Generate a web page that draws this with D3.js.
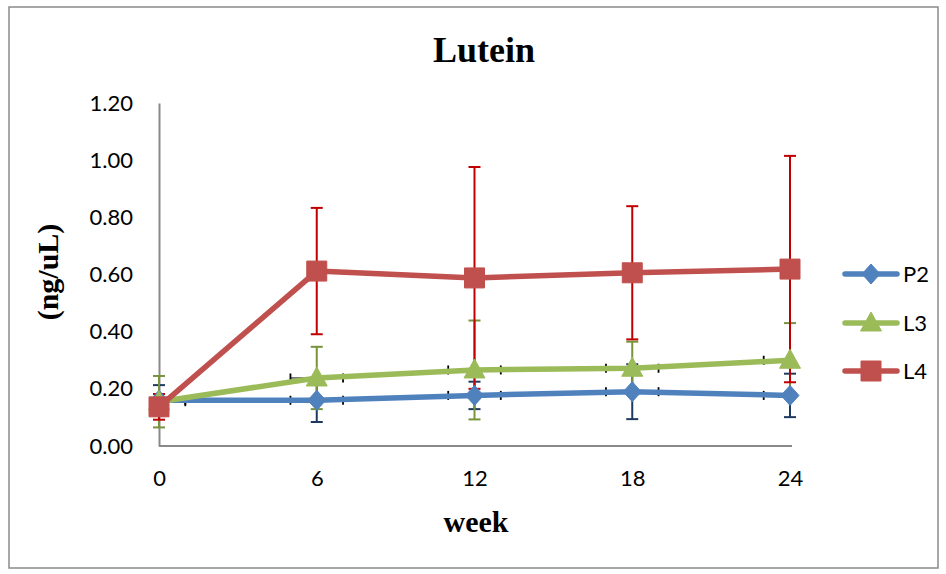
<!DOCTYPE html>
<html>
<head>
<meta charset="utf-8">
<script src="https://cdn.jsdelivr.net/npm/d3@7"></script>
<style>
  html, body { margin: 0; padding: 0; background: #fff; }
  svg { display: block; }
</style>
</head>
<body>
<svg id="chart" width="946" height="574"></svg>
<script>
// Lutein concentration over time, three groups with error bars
const weeks = [0, 6, 12, 18, 24];
const xTicks = [0, 6, 12, 18, 24];
const yTicks = [0, 0.2, 0.4, 0.6, 0.8, 1.0, 1.2];
const seriesNames = ["P2", "L3", "L4"];

const p2Values = [0.160, 0.160, 0.177, 0.190, 0.177];
const l3Values = [0.155, 0.238, 0.266, 0.272, 0.300];
const l4Values = [0.137, 0.612, 0.588, 0.606, 0.619];

const p2Err = [0.053, 0.076, 0.048, 0.096, 0.076];
const l3Err = [0.090, 0.109, 0.173, 0.093, 0.130];
const l4Err = [0.045, 0.221, 0.388, 0.233, 0.396];

// horizontal (week) error, only P2 and L3 carry it
const p2WeekErr = [1, 1, 1, 1, 1];
const l3WeekErr = [1, 1, 1, 1, 1];
const l4WeekErr = [0, 0, 0, 0, 0];

const lineColors = ["#4F81BD", "#9BBB59", "#C0504D"];
const errColors = ["#1F3A60", "#77933C", "#C00000"];
const markerShapes = ["diamond", "triangle", "square"];

const series = seriesNames.map((name, i) => ({
  name,
  values: [p2Values, l3Values, l4Values][i],
  err: [p2Err, l3Err, l4Err][i],
  weekErr: [p2WeekErr, l3WeekErr, l4WeekErr][i],
  color: lineColors[i],
  errColor: errColors[i],
  shape: markerShapes[i]
}));

const svg = d3.select("#chart");

// outer frame
svg.append("rect")
  .attr("x", 9).attr("y", 7).attr("width", 929).attr("height", 561)
  .attr("fill", "#fff").attr("stroke", "#8a8a8a").attr("stroke-width", 1.5);

const x = d3.scaleLinear().domain([0, 24]).range([159, 790]);
const y = d3.scaleLinear().domain([0, 1.2]).range([446, 103]);

svg.append("defs").append("clipPath").attr("id", "plotClip")
  .append("rect").attr("x", 159).attr("y", 95).attr("width", 631).attr("height", 355);

// title
svg.append("text")
  .attr("x", 484).attr("y", 62)
  .attr("text-anchor", "middle")
  .style("font-family", "'Liberation Serif', 'Times New Roman', serif")
  .style("font-weight", "bold").style("font-size", "36px")
  .text("Lutein");

// axes
const axisFont = "Lato, 'Open Sans', sans-serif";

const yAxis = svg.append("g")
  .attr("transform", `translate(${x(0)},0)`)
  .call(d3.axisLeft(y).tickValues(yTicks).tickFormat(d3.format(".2f")).tickSize(0).tickPadding(26));
yAxis.select(".domain").attr("stroke", "#898989").attr("stroke-width", 2);
yAxis.selectAll("text").style("font-family", axisFont).style("font-size", "22px").attr("fill", "#000");

const xAxis = svg.append("g")
  .attr("transform", `translate(0,${y(0)})`)
  .call(d3.axisBottom(x).tickValues(xTicks).tickFormat(d3.format("d")).tickSize(0).tickPadding(24));
xAxis.select(".domain").attr("stroke", "#898989").attr("stroke-width", 2)
  .attr("d", `M${x(0)},0H${x(24) + 2}`);
xAxis.selectAll("text").style("font-family", axisFont).style("font-size", "22px").attr("fill", "#000");

// axis titles
svg.append("text")
  .attr("x", 476).attr("y", 532)
  .attr("text-anchor", "middle")
  .style("font-family", "'Liberation Serif', 'Times New Roman', serif")
  .style("font-weight", "bold").style("font-size", "30px")
  .text("week");

svg.append("text")
  .attr("transform", "translate(58,272) rotate(-90)")
  .attr("text-anchor", "middle")
  .style("font-family", "'Liberation Serif', 'Times New Roman', serif")
  .style("font-weight", "bold").style("font-size", "30px")
  .text("(ng/uL)");

// marker paths
function markerPath(shape) {
  if (shape === "diamond") return "M0,-10L9,0L0,10L-9,0Z";
  if (shape === "triangle") return "M0,-11L10.5,8L-10.5,8Z";
  return "M-10,-10H10V10H-10Z";
}

const capHalf = 6;

// vertical error bars
const errG = svg.append("g");
series.forEach(s => {
  const g = errG.append("g");
  weeks.forEach((w, i) => {
    const cx = x(w);
    const top = y(s.values[i] + s.err[i]);
    const bot = y(s.values[i] - s.err[i]);
    g.append("line").attr("x1", cx).attr("x2", cx).attr("y1", top).attr("y2", bot)
      .attr("stroke", s.errColor).attr("stroke-width", 2);
    [top, bot].forEach(yy => g.append("line")
      .attr("x1", cx - capHalf).attr("x2", cx + capHalf).attr("y1", yy).attr("y2", yy)
      .attr("stroke", s.errColor).attr("stroke-width", 2));
  });
});

// horizontal error bars (black), clipped to the plot area
const hErrG = svg.append("g").attr("clip-path", "url(#plotClip)");
series.forEach(s => {
  weeks.forEach((w, i) => {
    if (!s.weekErr[i]) return;
    const cy = y(s.values[i]);
    const left = x(w - s.weekErr[i]);
    const right = x(w + s.weekErr[i]);
    hErrG.append("line").attr("x1", left).attr("x2", right).attr("y1", cy).attr("y2", cy)
      .attr("stroke", "#000").attr("stroke-width", 1);
    [left, right].forEach(xx => hErrG.append("line")
      .attr("x1", xx).attr("x2", xx).attr("y1", cy - 4.5).attr("y2", cy + 4.5)
      .attr("stroke", "#000").attr("stroke-width", 1.8));
  });
});

// lines
const line = d3.line().x((d, i) => x(weeks[i])).y(d => y(d));
series.forEach(s => {
  svg.append("path").datum(s.values)
    .attr("d", line)
    .attr("fill", "none").attr("stroke", s.color).attr("stroke-width", 5.5)
    .attr("stroke-linejoin", "round").attr("stroke-linecap", "round");
});

// markers
series.forEach(s => {
  svg.append("g").selectAll("path").data(s.values).join("path")
    .attr("transform", (d, i) => `translate(${x(weeks[i])},${y(d)})`)
    .attr("d", markerPath(s.shape))
    .attr("fill", s.color).attr("stroke", s.color).attr("stroke-width", 1);
});

// legend
const legendY = [274, 323, 371];
series.forEach((s, i) => {
  const g = svg.append("g").attr("transform", `translate(0,${legendY[i]})`);
  g.append("line").attr("x1", 845).attr("x2", 897).attr("y1", 0).attr("y2", 0)
    .attr("stroke", s.color).attr("stroke-width", 5.5).attr("stroke-linecap", "round");
  g.append("path").attr("transform", "translate(871,0)").attr("d", markerPath(s.shape))
    .attr("fill", s.color).attr("stroke", s.color);
  g.append("text").attr("x", 903).attr("y", 8)
    .style("font-family", axisFont).style("font-size", "22px")
    .text(s.name);
});
</script>
</body>
</html>
